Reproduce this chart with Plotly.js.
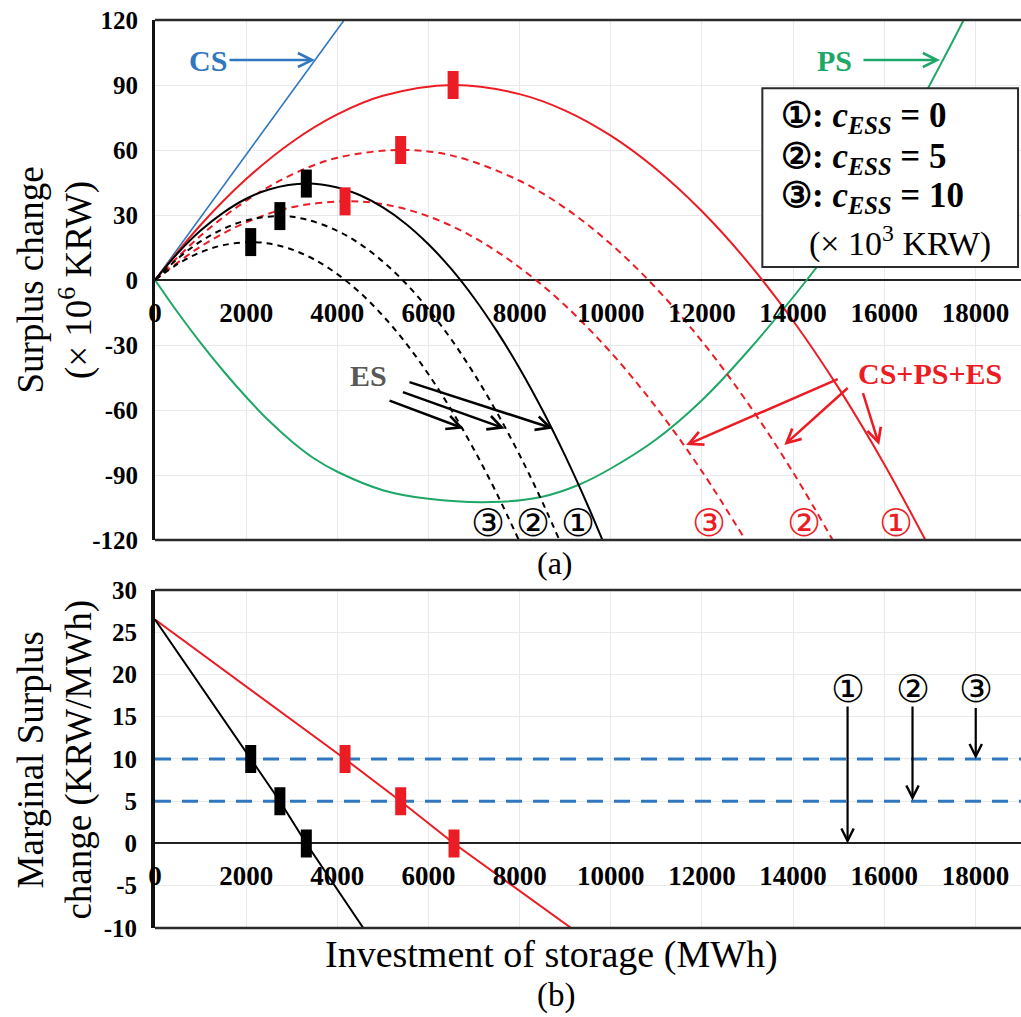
<!DOCTYPE html>
<html><head><meta charset="utf-8">
<script src="https://cdn.plot.ly/plotly-3.0.1.min.js"></script>
<style>html,body{margin:0;padding:0;background:#fff}#chart{width:1021px;height:1017px}</style>
</head><body><div id="chart"></div>
<script>
// ---------- data ----------
const xTicks = [0,2000,4000,6000,8000,10000,12000,14000,16000,18000];
const xTickText = ['0','2000','4000','6000','8000','10000','12000','14000','16000','18000'];
const yTopTicks = [-120,-90,-60,-30,0,30,60,90,120];
const yTopText = ['-120','-90','-60','-30','0','30','60','90','120'];
const yBotTicks = [-10,-5,0,5,10,15,20,25,30];
const yBotText = ['-10','-5','0','5','10','15','20','25','30'];

// (a) surplus change
const csX = [0, 4150];
const csY = [0, 120];
const psX = [0,500,1000,1500,2000,2500,3000,3500,4000,5000,6000,7400,8500,9300,10000,11000,12000,13000,14300,15000,15500,16000,16500,17000,17500,17800];
const psY = [0,-15,-29,-42,-54,-65,-74.5,-82.5,-88.5,-97,-101,-102.5,-100,-94.5,-87,-73.5,-55.5,-33,0,19.6,35.1,52.1,70.6,90.1,110.1,122.4];
const tot1X = [0,1000,2000,3000,4000,5000,6540,8000,9000,10000,11000,12000,13000,14000,15000,16000,17000];
const tot1Y = [0,25.4,46.6,63.6,76.4,85,90,85.8,78.2,66.6,51.1,31.7,8.4,-18.8,-49.9,-85,-123.9];
const tot2X = [0,1000,2000,3000,4000,5390,6540,8000,9000,10000,11000,12000,13000,14000,15000];
const tot2Y = [0,20.4,36.6,48.6,56.4,60,57.3,45.8,33.2,16.6,-3.9,-28.3,-56.6,-88.8,-124.9];
const tot3X = [0,1000,2000,3000,4170,5000,6000,7000,8000,9000,10000,11000,12000,13000];
const tot3Y = [0,15.4,26.6,33.6,36.3,35,29.4,19.6,5.8,-11.8,-33.4,-58.9,-88.3,-121.6];
const es1X = [0,500,1000,1500,2000,2500,3320,4000,4500,5000,5500,6000,6500,7000,7500,8000,8500,9000,9500,10000];
const es1Y = [0,12.4,22.8,31.1,37.5,41.8,44.5,42.7,39.1,33.5,26,16.5,5.1,-8.3,-23.6,-40.8,-60,-81.2,-104.3,-129.3];
const es2X = [0,500,1000,1500,2000,2740,3320,4000,4500,5000,5500,6000,6500,7000,7500,8000,8500,9000];
const es2Y = [0,9.9,17.8,23.6,27.5,29.5,27.9,22.7,16.6,8.5,-1.5,-13.5,-27.4,-43.3,-61.1,-80.8,-102.5,-126.2];
const es3X = [0,500,1000,1500,2100,2500,3000,3500,4000,4500,5000,5500,6000,6500,7000,7500,8000];
const es3Y = [0,7.4,12.8,16.1,17.5,16.8,14.1,9.4,2.7,-5.9,-16.5,-29,-43.5,-59.9,-78.3,-98.6,-120.8];
const optEsX = [3320,2740,2100];
const optEsY = [44.5,29.5,17.5];
const optTotX = [6540,5390,4170];
const optTotY = [90,60,36.3];

// (b) marginal surplus change
const mTotX = [0,4170,5390,6560,9130];
const mTotY = [26.5,10,5,0,-10];
const mEsX = [0,2100,2740,3320,4570];
const mEsY = [26.5,10,5,0,-10];
const costX = [0,19000];
const cost5 = [5,5];
const cost10 = [10,10];
const mOptEsX = [2100,2740,3320];
const mOptEsY = [10,5,0];
const mOptTotX = [4170,5390,6560];
const mOptTotY = [10,5,0];

// ---------- styles ----------
const RED = '#ec1c24', BLK = '#000000', GRN = '#1fa767', BLU = '#2f78c0', GRY = '#595959';
const SERIF = 'Liberation Serif, Times New Roman, serif';

function ln(x, y, color, width, dash, xa, ya) {
  return {x, y, type:'scatter', mode:'lines', xaxis:xa||'x', yaxis:ya||'y',
    line:{color, width, dash:dash||'solid', shape:'spline', smoothing:1}, hoverinfo:'skip'};
}
function mk(x, y, color, xa, ya) {
  return {x, y, type:'scatter', mode:'markers', xaxis:xa||'x', yaxis:ya||'y',
    marker:{symbol:'line-ns', size:20, color, line:{color, width:11}}, hoverinfo:'skip'};
}

const traces = [
  ln(csX, csY, BLU, 1.6),
  ln(psX, psY, GRN, 2),
  ln(tot3X, tot3Y, RED, 2, '7px,5px'),
  ln(tot2X, tot2Y, RED, 2, '7px,5px'),
  ln(tot1X, tot1Y, RED, 2),
  ln(es3X, es3Y, BLK, 2, '6px,5px'),
  ln(es2X, es2Y, BLK, 2, '6px,5px'),
  ln(es1X, es1Y, BLK, 2),
  mk(optEsX, optEsY, BLK),
  mk(optTotX, optTotY, RED),
  // bottom
  {x:costX, y:cost10, type:'scatter', mode:'lines', xaxis:'x2', yaxis:'y2', line:{color:BLU, width:3, dash:'16px,11px'}, hoverinfo:'skip'},
  {x:costX, y:cost5, type:'scatter', mode:'lines', xaxis:'x2', yaxis:'y2', line:{color:BLU, width:3, dash:'16px,11px'}, hoverinfo:'skip'},
  {x:mTotX, y:mTotY, type:'scatter', mode:'lines', xaxis:'x2', yaxis:'y2', line:{color:RED, width:2}, hoverinfo:'skip'},
  {x:mEsX, y:mEsY, type:'scatter', mode:'lines', xaxis:'x2', yaxis:'y2', line:{color:BLK, width:2}, hoverinfo:'skip'},
  mk(mOptEsX, mOptEsY, BLK, 'x2', 'y2'),
  mk(mOptTotX, mOptTotY, RED, 'x2', 'y2')
];

const xTickFont = {family:SERIF, size:27, weight:'bold', color:'#000'};
const yTickFont = {family:SERIF, size:25, weight:'bold', color:'#000'};
const gridC = '#e9e9e9';

function arrow(x, y, ax, ay, color, xa, ya, w) {
  return {x, y, ax, ay, xref:xa||'x', yref:ya||'y', axref:xa||'x', ayref:ya||'y',
    text:'', showarrow:true, arrowhead:5, arrowsize:1.1, arrowwidth:w||2.5, arrowcolor:color};
}
function txt(x, y, text, color, size, xa, ya, extra) {
  return Object.assign({x, y, xref:xa||'x', yref:ya||'y', text, showarrow:false,
    font:{family:SERIF, size, color}, xanchor:'center', yanchor:'middle'}, extra||{});
}
const CIRC = 'DejaVu Sans, sans-serif';
function circ(x, y, t, color, xa, ya) {
  return {x, y, xref:xa||'x', yref:ya||'y', text:t, showarrow:false,
    font:{family:CIRC, size:38, color}, xanchor:'center', yanchor:'middle'};
}

const annotations = [
  // (a) labels
  txt(1163, 101.5, '<b>CS</b>', BLU, 30),
  arrow(3510, 101.5, 1601, 101.5, BLU),
  txt(14919, 101.5, '<b>PS</b>', GRN, 30),
  arrow(17222, 101.5, 15511, 101.5, GRN),
  txt(4690, -44, '<b>ES</b>', GRY, 30),
  arrow(8729, -68.5, 5551, -46.9, BLK),
  arrow(7671, -68.5, 5406, -51.5, BLK),
  arrow(6772, -68.5, 5113, -55.4, BLK),
  txt(17006, -43, '<b>CS+PS+ES</b>', RED, 30),
  arrow(11652, -76.2, 15012, -45.4, RED),
  arrow(13807, -76.2, 15231, -49.2, RED),
  arrow(15889, -76.2, 15523, -51.5, RED),
  circ(7305, -112.3, '③', BLK),
  circ(8291, -112.3, '②', BLK),
  circ(9277, -112.3, '①', BLK),
  circ(12163, -112.3, '③', RED),
  circ(14245, -112.3, '②', RED),
  circ(16255, -112.3, '①', RED),
  // legend box text
  txt(13690, 75.2, '<b>①: <i>c</i><sub><i>ESS</i></sub> = 0</b>', BLK, 35, 'x', 'y', {xanchor:'left'}),
  txt(13690, 56.3, '<b>②: <i>c</i><sub><i>ESS</i></sub> = 5</b>', BLK, 35, 'x', 'y', {xanchor:'left'}),
  txt(13690, 38.3, '<b>③: <i>c</i><sub><i>ESS</i></sub> = 10</b>', BLK, 35, 'x', 'y', {xanchor:'left'}),
  txt(14300, 18.0, '(× 10<sup>3</sup> KRW)', BLK, 34, 'x', 'y', {xanchor:'left'}),
  // (b) arrows
  circ(15195, 18.3, '①', BLK, 'x2', 'y2'),
  circ(16620, 18.3, '②', BLK, 'x2', 'y2'),
  circ(18007, 18.3, '③', BLK, 'x2', 'y2'),
  arrow(15195, 0, 15195, 16.4, BLK, 'x2', 'y2', 2.2),
  arrow(16620, 5.1, 16620, 16.4, BLK, 'x2', 'y2', 2.2),
  arrow(18007, 10, 18007, 16.2, BLK, 'x2', 'y2', 2.2),
  // titles
  txt(-0.116, 0.7137, 'Surplus change<br>(× 10<sup>6</sup> KRW)', BLK, 37, 'paper', 'paper', {textangle:-90}),
  txt(-0.116, 0.185, 'Marginal Surplus<br>change (KRW/MWh)', BLK, 37, 'paper', 'paper', {textangle:-90}),
  txt(0.4584, -0.0297, 'Investment of storage (MWh)', BLK, 38, 'paper', 'paper'),
  txt(0.4619, 0.402, '(a)', BLK, 32, 'paper', 'paper'),
  txt(0.4630, -0.0738, '(b)', BLK, 33, 'paper', 'paper')
];

const frame = '#2b2b2b';
const shapes = [
  {type:'line', xref:'paper', yref:'paper', x0:0, x1:1, y0:1, y1:1, line:{color:frame, width:2.5}},
  {type:'line', xref:'paper', yref:'paper', x0:0, x1:1, y0:0.42731, y1:0.42731, line:{color:frame, width:2.5}},
  {type:'line', xref:'paper', yref:'paper', x0:0, x1:1, y0:0.37225, y1:0.37225, line:{color:frame, width:2.5}},
  {type:'line', xref:'paper', yref:'paper', x0:0, x1:1, y0:0, y1:0, line:{color:frame, width:2.5}},
  {type:'rect', xref:'x', yref:'y', x0:13325, x1:18935, y0:6, y1:88.5, fillcolor:'#ffffff', line:{color:frame, width:2}, layer:'above'}
];

const layout = {
  width:1021, height:1017,
  margin:{l:155, r:0, t:20, b:89},
  paper_bgcolor:'#ffffff', plot_bgcolor:'#ffffff',
  showlegend:false,
  font:{family:SERIF, color:'#000'},
  xaxis:{domain:[0,1], range:[0,19000], anchor:'free', position:0.71366,
    tickmode:'array', tickvals:xTicks, ticktext:xTickText, tickfont:xTickFont,
    showgrid:true, gridcolor:gridC, gridwidth:1, zeroline:false, showline:false, ticks:'', ticklabelstandoff:14},
  yaxis:{domain:[0.42731,1], range:[-120,120], anchor:'x',
    tickmode:'array', tickvals:yTopTicks, ticktext:yTopText, tickfont:yTickFont,
    showgrid:true, gridcolor:gridC, gridwidth:1, zeroline:true, zerolinecolor:'#222', zerolinewidth:2,
    showline:true, linecolor:'#111', linewidth:3, ticks:'outside', ticklen:9, tickcolor:'rgba(0,0,0,0)'},
  xaxis2:{domain:[0,1], range:[0,19000], anchor:'free', position:0.09361,
    tickmode:'array', tickvals:xTicks, ticktext:xTickText, tickfont:xTickFont,
    showgrid:true, gridcolor:gridC, gridwidth:1, zeroline:false, showline:false, ticks:'', ticklabelstandoff:14},
  yaxis2:{domain:[0,0.37225], range:[-10,30], anchor:'x2',
    tickmode:'array', tickvals:yBotTicks, ticktext:yBotText, tickfont:yTickFont,
    showgrid:true, gridcolor:gridC, gridwidth:1, zeroline:true, zerolinecolor:'#222', zerolinewidth:2,
    showline:true, linecolor:'#111', linewidth:4, ticks:'outside', ticklen:9, tickcolor:'rgba(0,0,0,0)'},
  shapes, annotations
};

Plotly.newPlot('chart', traces, layout, {displayModeBar:false, staticPlot:true});
</script></body></html>
